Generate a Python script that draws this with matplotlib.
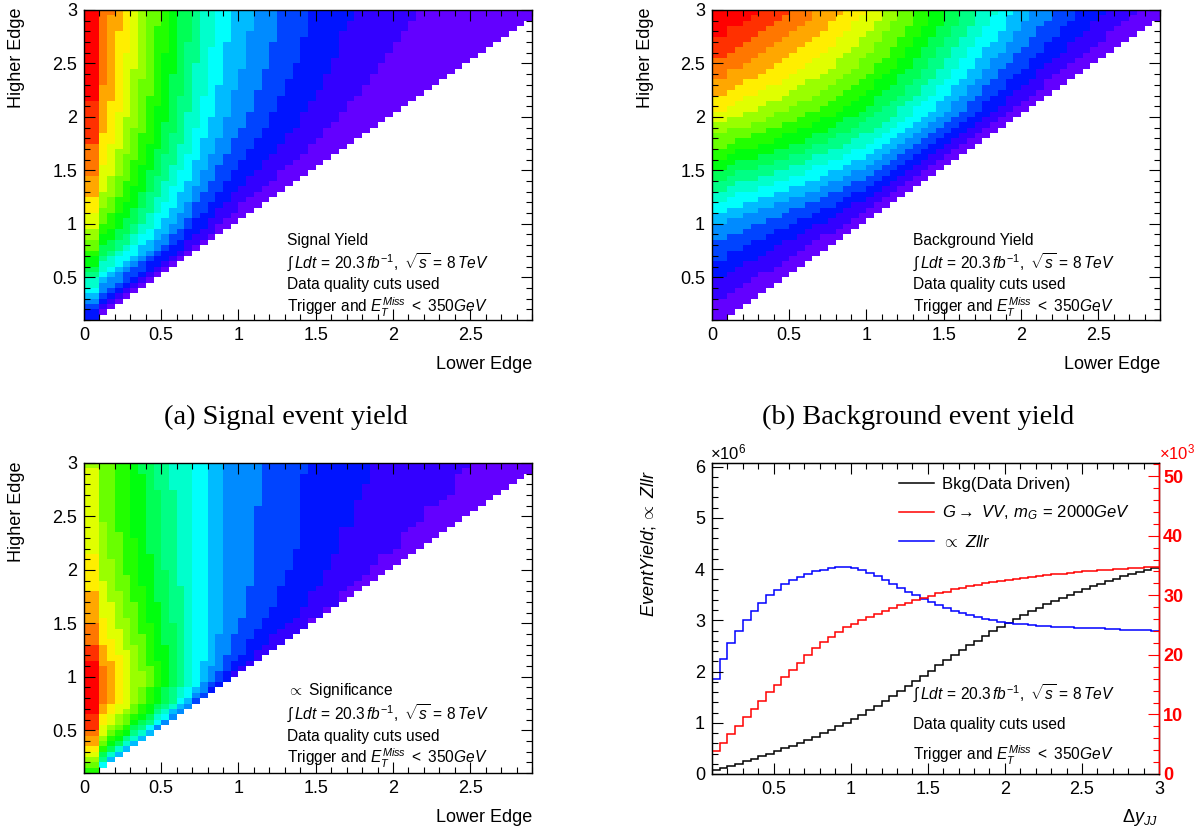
import colorsys

import numpy as np
import matplotlib
matplotlib.use("Agg")
import matplotlib.pyplot as plt
from matplotlib.colors import ListedColormap, BoundaryNorm
from matplotlib.lines import Line2D
from matplotlib.ticker import MultipleLocator, FuncFormatter

plt.rcParams["font.family"] = ["Liberation Sans", "DejaVu Sans"]
plt.rcParams["mathtext.fontset"] = "custom"
plt.rcParams["mathtext.rm"] = "Liberation Sans"
plt.rcParams["mathtext.it"] = "Liberation Sans:italic"
plt.rcParams["mathtext.bf"] = "Liberation Sans:bold"

# ---------------------------------------------------------------------------
# Cumulative yields vs. the |dy_JJ| cut (bins of 0.05 from 0.1 to 3.0)
# ---------------------------------------------------------------------------
DY_EDGES = np.round(np.arange(0.10, 3.0001, 0.05), 2)

# background (data driven), x1e6 events
BKG = [0.08, 0.11, 0.155, 0.20, 0.245, 0.295, 0.345, 0.395, 0.445, 0.50,
       0.555, 0.61, 0.67, 0.73, 0.795, 0.865, 0.935, 1.005, 1.08, 1.16,
       1.245, 1.335, 1.425, 1.52, 1.62, 1.72, 1.82, 1.92, 2.02, 2.12,
       2.22, 2.32, 2.42, 2.515, 2.605, 2.695, 2.785, 2.87, 2.95, 3.03,
       3.105, 3.175, 3.245, 3.31, 3.375, 3.44, 3.50, 3.555, 3.61, 3.665,
       3.715, 3.765, 3.815, 3.86, 3.905, 3.95, 3.99, 4.03]

# G -> VV signal, m_G = 2000 GeV, x1e3 events
SIG = [3.9, 5.2, 6.7, 8.1, 9.5, 10.9, 12.3, 13.7, 15.0, 16.3,
       17.5, 18.7, 20.0, 21.1, 22.1, 23.0, 23.9, 24.6, 25.2, 25.8,
       26.4, 26.9, 27.4, 27.9, 28.3, 28.7, 29.2, 29.6, 29.9, 30.3,
       30.6, 31.0, 31.2, 31.5, 31.7, 32.0, 32.2, 32.4, 32.6, 32.8,
       32.9, 33.1, 33.3, 33.4, 33.5, 33.6, 33.8, 33.9, 34.0, 34.1,
       34.2, 34.3, 34.38, 34.46, 34.54, 34.62, 34.7, 34.8]

# Zllr, arbitrary scale (drawn on the left axis)
ZLLR = [1.85, 2.25, 2.55, 2.8, 3.0, 3.18, 3.34, 3.49, 3.6, 3.7,
        3.78, 3.85, 3.91, 3.96, 3.99, 4.02, 4.04, 4.04, 4.02, 3.98,
        3.93, 3.86, 3.79, 3.71, 3.63, 3.56, 3.49, 3.42, 3.36, 3.30,
        3.24, 3.19, 3.14, 3.10, 3.06, 3.03, 3.00, 2.97, 2.95, 2.93,
        2.92, 2.90, 2.89, 2.88, 2.87, 2.87, 2.86, 2.85, 2.85, 2.84,
        2.84, 2.83, 2.83, 2.82, 2.82, 2.81, 2.81, 2.80]

LO_EDGES = np.round(np.arange(0.0, 2.9001, 0.05), 2)

LUMI = r"$\int\,Ldt\,=\,20.3\,fb^{-1},\ \sqrt{s}\,=\,8\,TeV$"
DQ = "Data quality cuts used"
TRIG = r"Trigger and $E_{T}^{Miss}\ <\ 350GeV$"

W, H = 1197, 834


def px(x, y):
    return x / W, 1 - y / H


def root_palette(ncont=20, ncolors=50):
    # violet -> red "pretty" palette, picked per contour level
    cols = []
    for m in range(ncont):
        i = min(int((m + 0.99) * ncolors / ncont), ncolors - 1)
        hue = 280 - (i + 1) * 280 / ncolors
        cols.append(colorsys.hls_to_rgb(hue / 360, 0.5, 1.0))
    return ListedColormap(cols)


def window_map(cum):
    """Yield between a lower and a higher |dy| edge from a cumulative array.

    rows: higher edge bins, columns: lower edge bins.  The first two lower
    edge columns (0 and 0.05) lie below the first cumulative bin.
    """
    cum = np.asarray(cum, float)
    n = len(cum)
    base = np.concatenate([[0.0, 0.0], cum[:-2]])
    vals = cum[:, None] - base[None, :]
    rows = np.arange(n)[:, None]
    cols = np.arange(n)[None, :]
    return np.where(cols <= rows + 1, vals, np.nan)


fmt = FuncFormatter(lambda v, p: f"{v:g}")


def style_frame(ax):
    ax.tick_params(which="both", direction="in", top=True, right=True,
                   labelsize=13, width=0.8, pad=5)
    ax.tick_params(which="major", length=8)
    ax.tick_params(which="minor", length=4.5)
    for s in ax.spines.values():
        s.set_linewidth(1.0)


def draw_map(ax, z):
    norm = BoundaryNorm(np.linspace(0, np.nanmax(z), 21), 20)
    ax.pcolormesh(LO_EDGES, DY_EDGES, np.ma.masked_invalid(z),
                  cmap=root_palette(), norm=norm, shading="flat")
    ax.set_xlim(0, 2.9)
    ax.set_ylim(0.1, 3.0)
    ax.xaxis.set_major_locator(MultipleLocator(0.5))
    ax.xaxis.set_minor_locator(MultipleLocator(0.1))
    ax.yaxis.set_major_locator(MultipleLocator(0.5))
    ax.yaxis.set_minor_locator(MultipleLocator(0.1))
    ax.xaxis.set_major_formatter(fmt)
    ax.yaxis.set_major_formatter(fmt)
    style_frame(ax)


sig_map = window_map(SIG)
bkg_map = window_map(BKG)
signif_map = sig_map / np.sqrt(bkg_map)

fig = plt.figure(figsize=(W / 100, H / 100), dpi=100)

axw, axh = 448 / W, 310 / H
ax_a = fig.add_axes([84 / W, 1 - 320 / H, axw, axh])
ax_b = fig.add_axes([712 / W, 1 - 320 / H, axw, axh])
ax_c = fig.add_axes([84 / W, 1 - 773 / H, axw, axh])
ax_d = fig.add_axes([712 / W, 1 - 774 / H, 447 / W, 311 / H])

draw_map(ax_a, sig_map)
draw_map(ax_b, bkg_map)
draw_map(ax_c, signif_map)

# heat-map axis titles and info text
for ax_x, top_y, bot_y in [(84, 10, 365), (712, 10, 365), (84, 463, 818)]:
    fig.text(*px(ax_x + 448, bot_y), "Lower Edge", ha="right", va="center",
             fontsize=13)
    fig.text(*px(ax_x - 67, top_y - 2), "Higher Edge", ha="center", va="top",
             rotation=90, fontsize=13)

for x0, y0, head in [(287, 240, "Signal Yield"), (913, 240, "Background Yield"),
                     (287, 691, r"$\propto$ Significance")]:
    for i, line in enumerate([head, LUMI, DQ, TRIG]):
        fig.text(*px(x0, y0 + 22.5 * i), line, ha="left", va="center",
                 fontsize=11.2)

fig.text(*px(286, 417), "(a) Signal event yield", ha="center", va="center",
         fontsize=20.5, family="Liberation Serif")
fig.text(*px(918, 417), "(b) Background event yield", ha="center",
         va="center", fontsize=20.5, family="Liberation Serif")

# ---------------------------------------------------------------------------
# cumulative yields panel
# ---------------------------------------------------------------------------
ax = ax_d
ax.stairs(BKG, DY_EDGES, color="black", lw=1.1, baseline=None)
ax.stairs(ZLLR, DY_EDGES, color="blue", lw=1.1, baseline=None)
ax.set_xlim(0.1, 3.0)
ax.set_ylim(0, 6.07)
ax.xaxis.set_major_locator(MultipleLocator(0.5))
ax.xaxis.set_minor_locator(MultipleLocator(0.1))
ax.yaxis.set_major_locator(MultipleLocator(1))
ax.yaxis.set_minor_locator(MultipleLocator(0.2))
ax.xaxis.set_major_formatter(fmt)
ax.yaxis.set_major_formatter(fmt)
style_frame(ax)
ax.tick_params(which="both", right=False)

ax2 = ax.twinx()
ax2.stairs(SIG, DY_EDGES, color="red", lw=1.1, baseline=None)
ax2.set_ylim(0, 52.2)
ax2.yaxis.set_major_locator(MultipleLocator(10))
ax2.yaxis.set_minor_locator(MultipleLocator(2))
ax2.yaxis.set_major_formatter(fmt)
ax2.tick_params(which="both", direction="in", color="red", labelcolor="red",
                labelsize=13, width=0.8, pad=3)
ax2.tick_params(which="major", length=8)
ax2.tick_params(which="minor", length=4.5)
for lab in ax2.get_yticklabels():
    lab.set_fontweight("bold")
ax2.spines["right"].set_color("red")
ax2.spines["right"].set_linewidth(1.0)

handles = [Line2D([], [], color="black", lw=1.1),
           Line2D([], [], color="red", lw=1.1),
           Line2D([], [], color="blue", lw=1.1)]
labels = ["Bkg(Data Driven)", r"$G\rightarrow\ VV,\,m_{G}\,=\,2000GeV$",
          r"$\propto\ Zllr$"]
ax2.legend(handles, labels, loc="upper left",
           bbox_to_anchor=((899 - 712) / 447, 1 - (477 - 463) / 311),
           frameon=False, fontsize=12, handlelength=2.1, handletextpad=0.5,
           labelspacing=0.7, borderaxespad=0, borderpad=0)

for i, line in enumerate([LUMI, DQ, TRIG]):
    fig.text(*px(913, 694 + 30.5 * i), line, ha="left", va="center",
             fontsize=11.2)

fig.text(*px(710, 452), r"$\times10^{6}$", ha="left", va="center",
         fontsize=12)
fig.text(*px(1159, 452), r"$\times10^{3}$", ha="left", va="center",
         fontsize=12, color="red")
fig.text(*px(648, 470), r"$EventYield;\propto\ Zllr$", ha="center",
         va="top", rotation=90, fontsize=13)
fig.text(*px(1158, 818), r"$\Delta y_{JJ}$", ha="right", va="center",
         fontsize=13)

fig.savefig("out.png", dpi=100)
